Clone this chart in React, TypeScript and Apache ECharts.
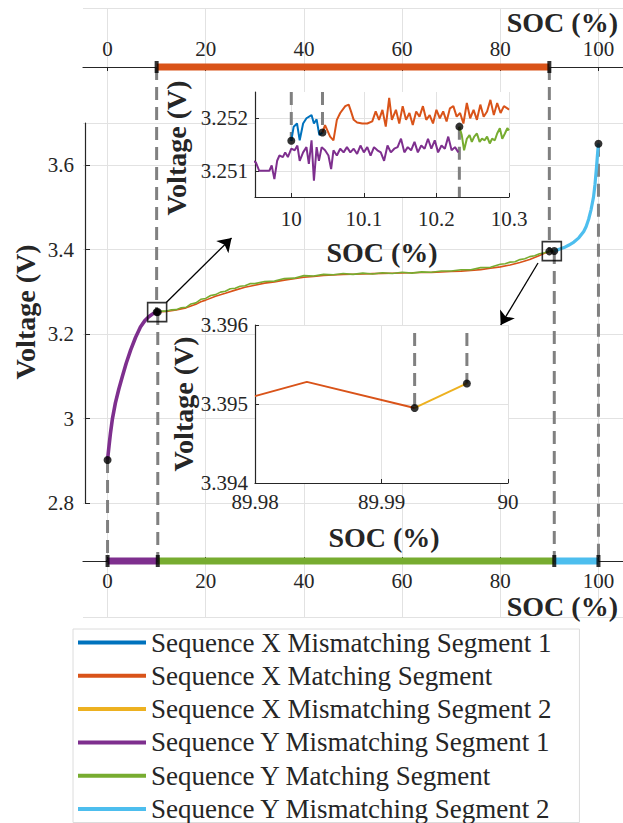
import React, { useEffect, useRef } from "react";
import * as echarts from "echarts";

// ---------- legend names & colours ----------
const NAMES = [
  "Sequence X Mismatching Segment 1",
  "Sequence X Matching Segment",
  "Sequence X Mismatching Segment 2",
  "Sequence Y Mismatching Segment 1",
  "Sequence Y Matching Segment",
  "Sequence Y Mismatching Segment 2",
];
const COLORS = ["#0072BD", "#D95319", "#EDB120", "#7E2F8E", "#77AC30", "#4DBEEE"];

// ---------- tick values ----------
const socTicks = [0, 20, 40, 60, 80, 100];

// ---------- segment edges (SOC %) ----------
const xSegEdges = [10.0, 10.043, 89.9926, 89.9965];
const ySegEdges = [0, 10.232, 91.0, 100];

// ---------- main curves ----------
const ySeg1Soc = [0, 0.3, 0.6, 1.0, 1.6, 2.3, 3.0, 3.8, 4.7, 5.7, 6.7, 7.6, 8.4, 9.2, 10.0, 10.232];
const ySeg1V = [2.902, 2.935, 2.966, 3.0, 3.037, 3.07, 3.099, 3.131, 3.162, 3.192, 3.217, 3.232, 3.241, 3.248, 3.2514, 3.2514];

const xMatchSoc = [10.043, 11, 12, 13, 14, 15, 16, 17, 18, 19, 20, 22, 24, 26, 28, 30, 32, 34, 36, 38, 40, 42, 44, 46, 48, 50, 52, 54, 56, 58, 60, 62, 64, 66, 68, 70, 72, 74, 76, 78, 80, 82, 84, 86, 88, 89, 89.9926];
const xMatchV = [3.2517, 3.2528, 3.2538, 3.2552, 3.2572, 3.2598, 3.2622, 3.2668, 3.2705, 3.2765, 3.2805, 3.2898, 3.2968, 3.3042, 3.3108, 3.3158, 3.3208, 3.3238, 3.3278, 3.3312, 3.3348, 3.3368, 3.3392, 3.3402, 3.3412, 3.3418, 3.3422, 3.3432, 3.3438, 3.3442, 3.3448, 3.3452, 3.3458, 3.3462, 3.3472, 3.3482, 3.3492, 3.3508, 3.3528, 3.3558, 3.3592, 3.3638, 3.3698, 3.3768, 3.3862, 3.3915, 3.39495];

const yMatchSoc = [10.232, 11, 12, 13, 14, 15, 16, 17, 18, 19, 20, 21, 22, 23, 24, 25, 26, 27, 28, 29, 30, 32, 34, 36, 38, 40, 42, 44, 46, 48, 50, 52, 54, 56, 58, 60, 62, 64, 66, 68, 70, 72, 74, 76, 78, 80, 81, 82, 83, 84, 85, 86, 87, 88, 89, 90, 91];
const yMatchV = [3.2518, 3.2545, 3.2545, 3.2575, 3.258, 3.2625, 3.2635, 3.2715, 3.274, 3.2825, 3.2845, 3.2915, 3.2935, 3.2995, 3.3015, 3.3075, 3.3085, 3.3135, 3.3145, 3.3195, 3.3195, 3.3245, 3.3255, 3.3315, 3.3325, 3.3385, 3.3375, 3.3415, 3.3405, 3.3435, 3.3415, 3.3445, 3.3425, 3.3455, 3.3435, 3.3465, 3.3445, 3.3475, 3.3465, 3.3495, 3.3495, 3.3525, 3.3525, 3.3575, 3.3585, 3.3655, 3.3665, 3.3705, 3.3715, 3.3765, 3.3785, 3.3835, 3.3855, 3.3905, 3.3925, 3.3965, 3.397];

const ySeg2Soc = [91, 92, 93, 94, 95, 96, 97, 97.5, 98, 98.5, 99, 99.3, 99.6, 99.8, 100];
const ySeg2V = [3.397, 3.401, 3.405, 3.411, 3.418, 3.428, 3.443, 3.455, 3.472, 3.495, 3.525, 3.555, 3.595, 3.625, 3.651];

// ---------- inset 1 (SOC 9.95 - 10.3) ----------
const in1XSeg1Soc = [10.0, 10.0033, 10.0079, 10.0116, 10.0163, 10.0209, 10.0279, 10.0312, 10.0349, 10.0386, 10.043];
const in1XSeg1V = [3.25157, 3.25184, 3.2519, 3.25158, 3.2519, 3.252, 3.25206, 3.2519, 3.25198, 3.25168, 3.25173];

const in1XMatchSoc = [10.043, 10.0465, 10.0535, 10.0581, 10.0628, 10.0674, 10.0744, 10.0791, 10.0823, 10.086, 10.0907, 10.0977, 10.1047, 10.1116, 10.1163, 10.1209, 10.1256, 10.1302, 10.1349, 10.1386, 10.1442, 10.1488, 10.1535, 10.1581, 10.1628, 10.1674, 10.1721, 10.1767, 10.1814, 10.186, 10.1907, 10.1953, 10.2, 10.2047, 10.2093, 10.214, 10.2186, 10.2233, 10.2279, 10.2326, 10.2372, 10.2419, 10.2465, 10.2512, 10.2558, 10.2605, 10.2651, 10.2698, 10.2744, 10.2791, 10.2837, 10.2884, 10.293, 10.2977, 10.3];
const in1XMatchV = [3.25173, 3.25187, 3.25165, 3.25158, 3.25197, 3.2521, 3.25223, 3.25226, 3.25213, 3.25197, 3.25192, 3.2519, 3.2519, 3.25194, 3.25213, 3.25197, 3.25216, 3.25184, 3.25239, 3.25197, 3.25216, 3.2519, 3.25223, 3.25197, 3.2521, 3.25187, 3.25213, 3.25203, 3.25223, 3.25197, 3.25206, 3.2519, 3.25216, 3.252, 3.25213, 3.25194, 3.25219, 3.25223, 3.25203, 3.2521, 3.2519, 3.25229, 3.252, 3.25216, 3.25197, 3.25226, 3.25203, 3.25213, 3.25235, 3.25206, 3.25229, 3.2521, 3.25223, 3.25219, 3.25216];

const in1YSeg1Soc = [9.9465, 9.9512, 9.9558, 9.9605, 9.9651, 9.9698, 9.973, 9.9767, 9.9805, 9.9837, 9.9884, 9.9916, 9.9953, 10.0, 10.0047, 10.0084, 10.0116, 10.0163, 10.0209, 10.0242, 10.0279, 10.0312, 10.0349, 10.0381, 10.0419, 10.0465, 10.0512, 10.0549, 10.0581, 10.0628, 10.0674, 10.0721, 10.0767, 10.0814, 10.086, 10.0907, 10.0953, 10.1, 10.1047, 10.1093, 10.114, 10.1186, 10.1233, 10.1279, 10.1326, 10.1372, 10.1419, 10.1465, 10.1512, 10.1558, 10.1605, 10.1651, 10.1698, 10.1744, 10.1791, 10.1837, 10.1884, 10.193, 10.1977, 10.2023, 10.207, 10.2116, 10.2163, 10.2209, 10.2256, 10.2302];
const in1YSeg1V = [3.25119, 3.25116, 3.251, 3.251, 3.251, 3.251, 3.2511, 3.25084, 3.25119, 3.25129, 3.25126, 3.25135, 3.25126, 3.25142, 3.25139, 3.25148, 3.25119, 3.25135, 3.25145, 3.25113, 3.25158, 3.25081, 3.25145, 3.25119, 3.25145, 3.25139, 3.25129, 3.25103, 3.25139, 3.25129, 3.25142, 3.25135, 3.25145, 3.25135, 3.25142, 3.25132, 3.25148, 3.25135, 3.25145, 3.25129, 3.25145, 3.25139, 3.25135, 3.25119, 3.25148, 3.25135, 3.25142, 3.25145, 3.25161, 3.25135, 3.25145, 3.25139, 3.25155, 3.25135, 3.25148, 3.25142, 3.25161, 3.25142, 3.25158, 3.25135, 3.25148, 3.25142, 3.25165, 3.25139, 3.25145, 3.25135];

const in1YMatchSoc = [10.2316, 10.2349, 10.2381, 10.2419, 10.2456, 10.2488, 10.2521, 10.2558, 10.2595, 10.2628, 10.2665, 10.2698, 10.2735, 10.2767, 10.2805, 10.2837, 10.2874, 10.2907, 10.2944, 10.2977, 10.3];
const in1YMatchV = [3.25184, 3.25168, 3.25139, 3.25161, 3.25168, 3.25155, 3.25165, 3.25171, 3.25155, 3.25161, 3.25158, 3.25165, 3.25152, 3.25161, 3.25158, 3.25171, 3.25181, 3.25161, 3.25171, 3.25181, 3.25177];

// ---------- inset 2 (SOC 89.98 - 90) ----------
const in2XMatchSoc = [89.98, 89.9841, 89.99262];
const in2XMatchV = [3.3951, 3.39528, 3.39495];
const in2XSeg2Soc = [89.99262, 89.99675];
const in2XSeg2V = [3.39495, 3.39526];

// ---------- boundary points ----------
const mainXDots = [[10.0, 3.252], [89.9965, 3.396]];
const mainYDots = [[0, 2.902], [10.232, 3.2522], [91.0, 3.397], [100, 3.651]];
const mainSquares = [[10.1, 3.252], [90.5, 3.3965]];
const in1XDots = [[10.0, 3.25157], [10.043, 3.25173]];
const in1YDots = [[10.2316, 3.25184]];
const in2XDots = [[89.99262, 3.39495], [89.99675, 3.39526]];

// annotation arrows (data units of main axes)
const arrowFrom1 = [11.96, 3.275];
const arrowTo1 = [25.26, 3.4277];
const arrowFrom2 = [87.69, 3.3684];
const arrowTo2 = [80.1, 3.2216];

// layout constants
const TOP_AXIS_V = 3.8326; // main-axis value of the top SOC axis line
const BOTTOM_AXIS_V = 2.6626; // main-axis value of the bottom SOC axis line
const IN1_TOP = 3.2525;
const IN1_BOTTOM = 3.2505;
const IN2_TOP = 3.3959;

const FONT = "Liberation Serif";
const AXIS = "#262626";
const GRID = "#e2e2e2";
const DASH = "#808080";

const xy = (a: number[], b: number[]) => a.map((s, i) => [s, b[i]]);

function lineSeries(name: string, color: string, data: number[][], xi: number, yi: number, width: number, z = 3) {
  return {
    type: "line",
    name,
    color,
    xAxisIndex: xi,
    yAxisIndex: yi,
    data,
    symbol: "none",
    showSymbol: false,
    lineStyle: { color, width },
    z,
    silent: true,
  };
}

function dash(data: number[][], xi: number, yi: number, z = 1) {
  return {
    type: "line",
    name: "_dash",
    xAxisIndex: xi,
    yAxisIndex: yi,
    data,
    symbol: "none",
    clip: false,
    lineStyle: { color: DASH, width: 3, type: [13, 7] },
    z,
    silent: true,
  };
}

function dots(data: number[][], xi: number, yi: number, z = 6) {
  return {
    type: "scatter",
    name: "_dots",
    xAxisIndex: xi,
    yAxisIndex: yi,
    data,
    symbol: "circle",
    symbolSize: 8,
    itemStyle: { color: "#000" },
    clip: false,
    z,
    silent: true,
  };
}

function tickLabel(margin: number) {
  return {
    fontSize: 21,
    fontFamily: FONT,
    fontWeight: "normal",
    fontStyle: "normal",
    color: AXIS,
    margin,
  };
}

export default function App() {
  const ref = useRef<HTMLDivElement>(null);
  useEffect(() => {
    if (!ref.current) return;
    const chart = echarts.init(ref.current, undefined, { renderer: "svg" });

    const series: any[] = [];
    // main curves (grid 2)
    series.push(lineSeries(NAMES[0], COLORS[0], xy(in1XSeg1Soc, in1XSeg1V), 2, 2, 1.5));
    series.push(lineSeries(NAMES[1], COLORS[1], xy(xMatchSoc, xMatchV), 2, 2, 1.6));
    series.push(lineSeries(NAMES[2], COLORS[2], xy(in2XSeg2Soc, in2XSeg2V), 2, 2, 1.5));
    series.push(lineSeries(NAMES[3], COLORS[3], xy(ySeg1Soc, ySeg1V), 2, 2, 3.6));
    series.push(lineSeries(NAMES[4], COLORS[4], xy(yMatchSoc, yMatchV), 2, 2, 1.6));
    series.push(lineSeries(NAMES[5], COLORS[5], xy(ySeg2Soc, ySeg2V), 2, 2, 3.2));

    // segment bars on the top (X) and bottom (Y) SOC axes
    for (let i = 0; i < 3; i++) {
      series.push({
        ...lineSeries(NAMES[i], COLORS[i], [[xSegEdges[i], 0], [xSegEdges[i + 1], 0]], 1, 1, 7, 4),
        clip: false,
      });
      series.push({
        ...lineSeries(NAMES[3 + i], COLORS[3 + i], [[ySegEdges[i], 1], [ySegEdges[i + 1], 1]], 3, 3, 7, 4),
        clip: false,
      });
    }
    series.push({
      type: "scatter", name: "_caps", xAxisIndex: 1, yAxisIndex: 1, clip: false, silent: true, z: 5,
      symbol: "rect", symbolSize: [4, 12], itemStyle: { color: "#000" },
      data: [[xSegEdges[0], 0], [xSegEdges[3], 0]],
    });
    series.push({
      type: "scatter", name: "_caps", xAxisIndex: 3, yAxisIndex: 3, clip: false, silent: true, z: 5,
      symbol: "rect", symbolSize: [4, 12], itemStyle: { color: "#000" },
      data: ySegEdges.map((s) => [s, 1]),
    });

    // dashed boundary lines in the main plot
    mainXDots.forEach((p) => series.push(dash([[p[0], TOP_AXIS_V], [p[0], p[1]]], 2, 2)));
    mainYDots.forEach((p) => series.push(dash([[p[0], p[1]], [p[0], BOTTOM_AXIS_V]], 2, 2)));
    series.push(dots([...mainXDots, ...mainYDots], 2, 2));
    series.push({
      type: "scatter", name: "_squares", xAxisIndex: 2, yAxisIndex: 2, silent: true, z: 6,
      symbol: "rect", symbolSize: 19, data: mainSquares,
      itemStyle: { color: "rgba(0,0,0,0)", borderColor: "#000", borderWidth: 1.6 },
    });
    series.push({
      type: "lines", name: "_arrows", coordinateSystem: "cartesian2d", xAxisIndex: 2, yAxisIndex: 2,
      symbol: ["none", "arrow"], symbolSize: 13, silent: true, z: 6,
      lineStyle: { color: "#000", width: 1.3, opacity: 1, curveness: 0 },
      data: [{ coords: [arrowFrom1, arrowTo1] }, { coords: [arrowFrom2, arrowTo2] }],
    });

    // inset 1 (grid 4)
    in1XDots.forEach((p) => series.push(dash([[p[0], IN1_TOP], [p[0], p[1]]], 4, 4, 5)));
    in1YDots.forEach((p) => series.push(dash([[p[0], p[1]], [p[0], IN1_BOTTOM]], 4, 4, 5)));
    series.push(lineSeries(NAMES[3], COLORS[3], xy(in1YSeg1Soc, in1YSeg1V), 4, 4, 2, 6));
    series.push(lineSeries(NAMES[4], COLORS[4], xy(in1YMatchSoc, in1YMatchV), 4, 4, 2, 6));
    series.push(lineSeries(NAMES[0], COLORS[0], xy(in1XSeg1Soc, in1XSeg1V), 4, 4, 2, 6));
    series.push(lineSeries(NAMES[1], COLORS[1], xy(in1XMatchSoc, in1XMatchV), 4, 4, 2, 6));
    series.push(dots([...in1XDots, ...in1YDots], 4, 4, 7));

    // inset 2 (grid 5)
    in2XDots.forEach((p) => series.push(dash([[p[0], IN2_TOP], [p[0], p[1]]], 5, 5, 5)));
    series.push(lineSeries(NAMES[1], COLORS[1], xy(in2XMatchSoc, in2XMatchV), 5, 5, 2, 6));
    series.push(lineSeries(NAMES[2], COLORS[2], xy(in2XSeg2Soc, in2XSeg2V), 5, 5, 2, 6));
    series.push(dots(in2XDots, 5, 5, 7));

    const hidden = { show: false };
    const socAxisCommon = {
      type: "value", min: -5, max: 105,
      axisLine: { show: true, onZero: false, lineStyle: { color: AXIS, width: 1.2 } },
      axisTick: { show: true, length: 4, lineStyle: { color: AXIS }, customValues: socTicks },
      splitLine: { show: false },
    };
    const insetAxis = (extra: any) => ({
      type: "value", z: 4,
      axisLine: { show: true, onZero: false, lineStyle: { color: AXIS, width: 1.2 } },
      axisTick: { show: true, inside: true, length: 4, lineStyle: { color: AXIS } },
      splitLine: { show: true, showMinLine: false, lineStyle: { color: GRID } },
      ...extra,
    });

    const title = (text: string, x: number, y: number, align: string, rot = 0) => ({
      type: "text", x, y, rotation: rot, z: 20, silent: true,
      style: {
        text, fontSize: 28, fontWeight: "bold", fontFamily: FONT, fill: AXIS,
        align, verticalAlign: "middle",
      },
    });

    chart.setOption({
      animation: false,
      backgroundColor: "#ffffff",
      textStyle: { fontFamily: FONT },
      grid: [
        { left: 83, top: 8, width: 541.6, height: 609 },
        { left: 83, top: 8, width: 541.6, height: 59 },
        { left: 83, top: 123, width: 541.6, height: 380 },
        { left: 83, top: 561, width: 541.6, height: 56 },
        { left: 255, top: 92, width: 254, height: 105, show: true, backgroundColor: "#fff", borderWidth: 0, z: 3 },
        { left: 255, top: 325, width: 253, height: 158, show: true, backgroundColor: "#fff", borderWidth: 0, z: 3 },
      ],
      xAxis: [
        {
          gridIndex: 0, type: "value", min: -5, max: 105,
          axisLine: hidden, axisTick: hidden, axisLabel: hidden,
          splitLine: { show: true, showMinLine: false, showMaxLine: false, lineStyle: { color: GRID } },
        },
        {
          ...socAxisCommon, gridIndex: 1, position: "bottom",
          axisLabel: { ...tickLabel(8), inside: true, customValues: socTicks },
        },
        { gridIndex: 2, type: "value", min: -5, max: 105, show: false },
        {
          ...socAxisCommon, gridIndex: 3, position: "top",
          axisLabel: { ...tickLabel(9), inside: true, customValues: socTicks },
        },
        insetAxis({
          gridIndex: 4, min: 9.95, max: 10.3, splitNumber: 3, position: "bottom",
          axisLabel: { ...tickLabel(11), showMinLabel: false },
        }),
        insetAxis({
          gridIndex: 5, min: 89.98, max: 90, splitNumber: 2, position: "bottom",
          axisLabel: { ...tickLabel(8) },
        }),
      ],
      yAxis: [
        {
          gridIndex: 0, type: "value", min: 0, max: 1, interval: 1,
          axisLine: hidden, axisTick: hidden, axisLabel: hidden,
          splitLine: { show: true, lineStyle: { color: GRID } },
        },
        { gridIndex: 1, type: "value", min: 0, max: 1, show: false },
        {
          gridIndex: 2, type: "value", min: 2.8, max: 3.7, interval: 0.2, position: "left", offset: -2,
          axisLine: { show: true, onZero: false, lineStyle: { color: AXIS, width: 1.2 } },
          axisTick: { show: true, inside: true, length: 5, lineStyle: { color: AXIS } },
          axisLabel: { ...tickLabel(11), showMaxLabel: false },
          splitLine: { show: true, lineStyle: { color: GRID } },
        },
        { gridIndex: 3, type: "value", min: 0, max: 1, show: false },
        insetAxis({
          gridIndex: 4, min: 3.2505, max: 3.2525, splitNumber: 2, position: "left",
          splitLine: { show: true, showMinLine: false, showMaxLine: false, lineStyle: { color: GRID } },
          axisLabel: { ...tickLabel(7), showMinLabel: false, showMaxLabel: false },
        }),
        insetAxis({
          gridIndex: 5, min: 3.394, max: 3.396, splitNumber: 2, position: "left",
          axisLabel: { ...tickLabel(7) },
        }),
      ],
      legend: {
        data: NAMES,
        orient: "vertical",
        left: 73,
        top: 629,
        icon: "rect",
        itemWidth: 68,
        itemHeight: 4,
        itemGap: 6.3,
        padding: [0, 28, 0, 5],
        borderColor: "#dcdcdc",
        borderWidth: 1,
        selectedMode: false,
        textStyle: { fontSize: 27, fontFamily: FONT, color: AXIS, lineHeight: 26 },
      },
      graphic: {
        elements: [
          title("SOC (%)", 618, 22, "right"),
          title("SOC (%)", 618, 606, "right"),
          title("Voltage (V)", 25, 312, "center", Math.PI / 2),
          title("Voltage (V)", 176, 148, "center", Math.PI / 2),
          title("SOC (%)", 382, 252, "center"),
          title("Voltage (V)", 183, 404, "center", Math.PI / 2),
          title("SOC (%)", 384, 537, "center"),
        ],
      },
      series,
    });
    return () => chart.dispose();
  }, []);
  return (
    <div
      ref={ref}
      style={{ position: "absolute", left: 0, top: 0, width: 623, height: 823, background: "#fff" }}
    />
  );
}
